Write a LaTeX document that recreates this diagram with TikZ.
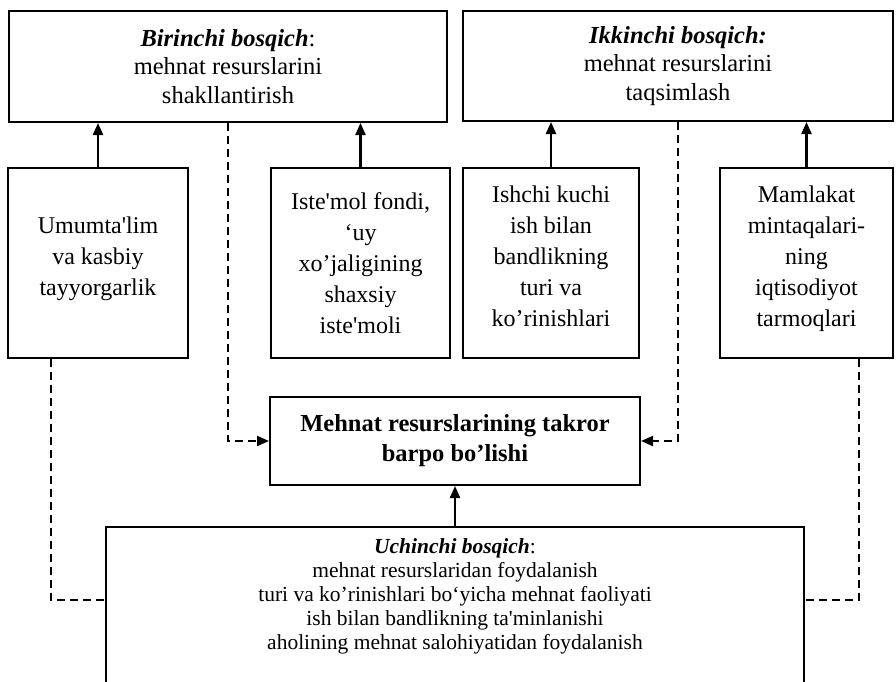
\documentclass[tikz,border=0pt]{standalone}
\usepackage{fontspec}
\setmainfont{Liberation Serif}
\usetikzlibrary{arrows.meta}
\newcommand{\ap}{\textquotesingle}
\newcommand{\liftup}{\\[-17pt]\mbox{}}

\begin{document}
\begin{tikzpicture}[x=1pt, y=-1pt,
        box/.style={draw, line width=2pt, align=center, inner sep=0pt},
        stagebox/.style={box, font=\fontsize{24.5}{28.5}\selectfont},
        factorbox/.style={box, minimum height=190pt, font=\fontsize{24}{31}\selectfont},
        solidarrow/.style={line width=2.2pt, -{Triangle[length=12pt, width=10pt]}},
        dashline/.style={line width=2pt, dash pattern=on 8pt off 5pt},
        dasharrow/.style={dashline, -{Triangle[length=12pt, width=10pt]}}]
        \useasboundingbox (0,0) rectangle (896,682);

        % Stages
        \node[stagebox, minimum width=438pt, minimum height=111pt] (stage1) at (228,66.5) {\textbf{\textit{Birinchi bosqich}}:\\ mehnat resurslarini\\ shakllantirish};
        \node[stagebox, minimum width=430pt, minimum height=110pt] (stage2) at (678,66) {\textbf{\textit{Ikkinchi bosqich:}}\\ mehnat resurslarini\\ taqsimlash};

        % Factors
        \node[factorbox, minimum width=180pt] (edu) at (98,263) {Umumta\ap lim\\ va kasbiy\\ tayyorgarlik\liftup};
        \node[factorbox, minimum width=179pt] (cons) at (360.5,263) {Iste\ap mol fondi,\\ ‘uy\\ xo’jaligining\\ shaxsiy\\ iste\ap moli};
        \node[factorbox, minimum width=176pt] (labor) at (551,263) {Ishchi kuchi\\ ish bilan\\ bandlikning\\ turi va\\ ko’rinishlari\liftup};
        \node[factorbox, minimum width=173pt] (region) at (806.5,263) {Mamlakat\\ mintaqalari-\\ ning\\ iqtisodiyot\\ tarmoqlari\liftup};

        % Reproduction
        \node[box, minimum width=370pt, minimum height=88pt, font=\bfseries\fontsize{24.5}{30}\selectfont] (repro) at (455,441) {Mehnat resurslarining takror\\ barpo bo’lishi};
        \node[box, minimum width=698pt, minimum height=159pt, font=\fontsize{21.5}{24}\selectfont] (stage3) at (455,606.5) {\textbf{\textit{Uchinchi bosqich}}:\\ mehnat resurslaridan foydalanish\\ turi va ko’rinishlari bo‘yicha mehnat faoliyati\\ ish bilan bandlikning ta\ap minlanishi\\ aholining mehnat salohiyatidan foydalanish\\ \mbox{}};

        % Arrows
        \draw[solidarrow] (edu.north) -- (edu.north |- stage1.south);
        \draw[solidarrow] (cons.north) -- (cons.north |- stage1.south);
        \draw[solidarrow] (labor.north) -- (labor.north |- stage2.south);
        \draw[solidarrow] (region.north) -- (region.north |- stage2.south);
        \draw[solidarrow] (stage3.north) -- (repro.south);

        % Dashed links
        \draw[dasharrow] (stage1.south) |- (repro.west);
        \draw[dasharrow] (stage2.south) |- (repro.east);
        \coordinate (eduout) at ([xshift=-47pt]edu.south);
        \coordinate (regionout) at ([xshift=52.5pt]region.south);
        \draw[dashline] (eduout) |- (stage3.west |- 0,600);
        \draw[dashline] (regionout) |- (stage3.east |- 0,600);
    \end{tikzpicture}
\end{document}
